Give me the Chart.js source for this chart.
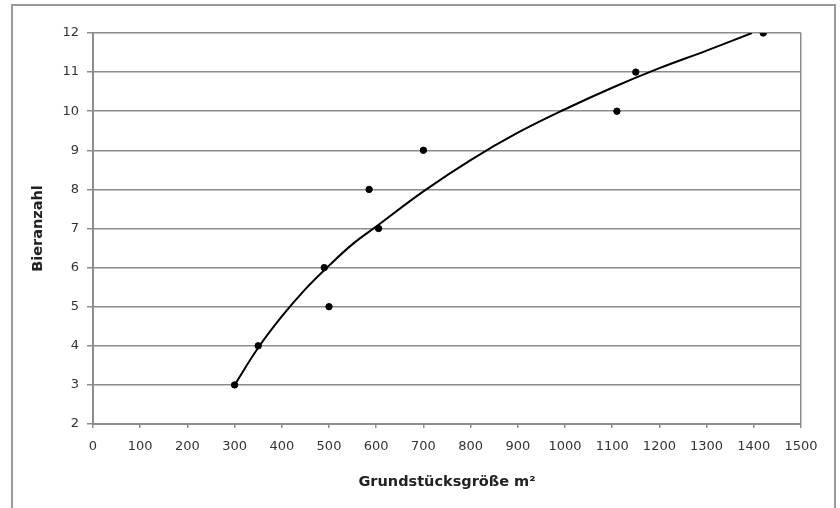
<!DOCTYPE html>
<html>
<head>
<meta charset="utf-8">
<script src="https://cdn.jsdelivr.net/npm/chart.js@4.4.0/dist/chart.umd.min.js"></script>
<style>
  html, body { margin: 0; padding: 0; background: #fff; overflow: hidden; }
  #frame { position: absolute; left: 11px; top: 4px; width: 821px; height: 540px; border: 2px solid #9a9a9a; }
  #wrap { position: absolute; left: 0; top: 0; width: 840px; height: 508px; }
</style>
</head>
<body>
<div id="frame"></div>
<div id="wrap"><canvas id="chart"></canvas></div>
<script>
// measured points
const groesse = [300, 350, 490, 500, 585, 605, 700, 1110, 1150, 1420];
const biere = [3, 4, 6, 5, 8, 7, 9, 10, 11, 12];

// trend curve
const trendX = [300, 350, 400, 450, 500, 550, 600, 700, 800, 900, 1000, 1100, 1200, 1300, 1396];
const trendY = [3.0, 3.95, 4.75, 5.45, 6.05, 6.6, 7.05, 7.95, 8.75, 9.45, 10.05, 10.6, 11.1, 11.55, 12.0];

const xTitle = 'Grundstücksgröße m²';
const yTitle = 'Bieranzahl';

const gray = '#8c8c8c';
const tickFont = { family: 'DejaVu Sans', size: 13 };
const titleFont = { family: 'DejaVu Sans', size: 14.5, weight: 'bold' };

const points = groesse.map((x, i) => ({ x: x, y: biere[i] }));
const trend = trendX.map((x, i) => ({ x: x, y: trendY[i] }));

new Chart(document.getElementById('chart'), {
  type: 'scatter',
  data: {
    datasets: [
      {
        label: 'Trend',
        type: 'line',
        data: trend,
        borderColor: '#000',
        borderWidth: 2,
        pointRadius: 0,
        tension: 0.4,
        fill: false
      },
      {
        label: 'Bieranzahl',
        data: points,
        backgroundColor: '#000',
        borderColor: '#000',
        pointRadius: 3.2
      }
    ]
  },
  options: {
    responsive: true,
    maintainAspectRatio: false,
    animation: false,
    layout: { padding: { left: 0, top: 33, right: 39, bottom: 0 } },
    plugins: { legend: { display: false }, tooltip: { enabled: false } },
    scales: {
      x: {
        type: 'linear',
        min: 0,
        max: 1500,
        ticks: {
          stepSize: 100, color: '#333', font: tickFont, padding: 11, maxRotation: 0,
          callback: (v) => String(v)
        },
        grid: {
          color: (ctx) => (ctx.tick && ctx.tick.value === 1500 ? gray : 'transparent'),
          tickColor: gray,
          tickLength: 4,
          lineWidth: 1.5
        },
        border: { color: gray, width: 2 },
        title: { display: true, text: xTitle, color: '#222', font: titleFont, padding: { top: 4, bottom: 17 } },
        afterFit: (scale) => { scale.height = 84; }
      },
      y: {
        min: 2,
        max: 12,
        ticks: { stepSize: 1, color: '#333', font: tickFont, padding: 8 },
        grid: { color: gray, tickColor: gray, tickLength: 6, lineWidth: 1.5 },
        border: { color: gray, width: 2 },
        title: { display: true, text: yTitle, color: '#222', font: titleFont, padding: { top: 30, bottom: 4 } },
        afterFit: (scale) => { scale.width = 93; }
      }
    }
  }
});
</script>
</body>
</html>
